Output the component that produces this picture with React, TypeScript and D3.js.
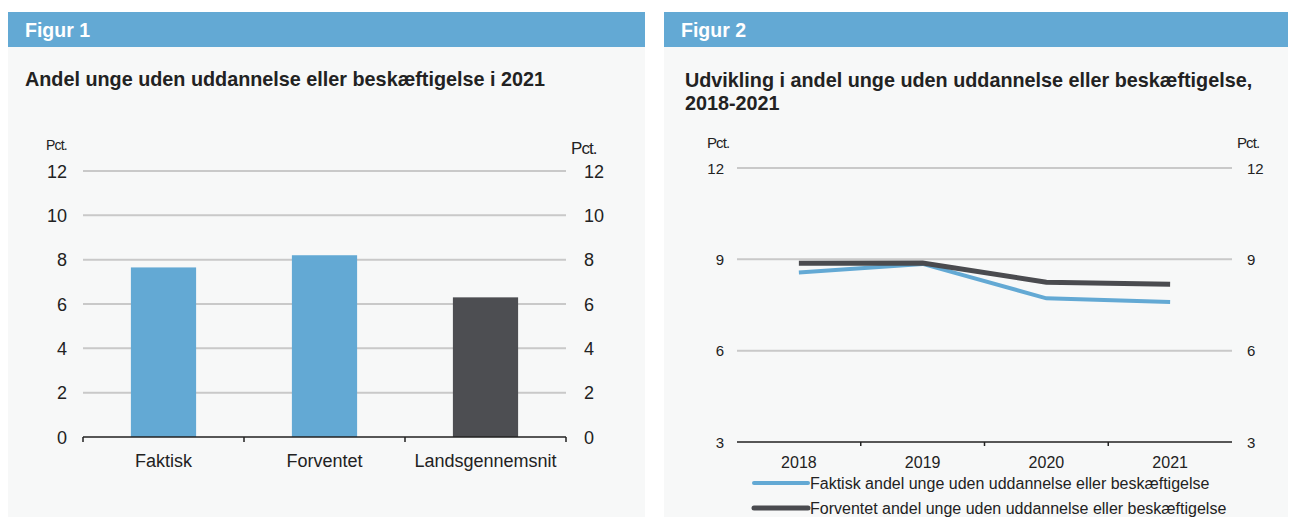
import React from 'react';
import * as d3 from 'd3';

// Figur 1 data
const categories = ['Faktisk', 'Forventet', 'Landsgennemsnit'];
const barValues = [7.65, 8.2, 6.3];
const barColors = ['#63a9d4', '#63a9d4', '#4d4e52'];
const barTicks = [0, 2, 4, 6, 8, 10, 12];

// Figur 2 data
const years = ['2018', '2019', '2020', '2021'];
const faktisk = [8.57, 8.85, 7.72, 7.6];
const forventet = [8.87, 8.88, 8.25, 8.18];
const lineTicks = [3, 6, 9, 12];
const legendLabels = [
  'Faktisk andel unge uden uddannelse eller beskæftigelse',
  'Forventet andel unge uden uddannelse eller beskæftigelse',
];

const FONT = '"Liberation Sans", Arial, sans-serif';
const BLUE = '#63a9d4';
const DARK = '#4a4b4f';
const GRID = '#c9c9c9';
const TEXT = '#222';

const Panel = ({ x, w, label }: { x: number; w: number; label: string }) => (
  <g>
    <rect x={x} y={47} width={w} height={470} fill="#f7f8f8" />
    <rect x={x} y={12} width={w} height={35} fill={BLUE} />
    <text x={x + 17} y={37} fill="#fff" fontSize={19.5} fontWeight="bold">{label}</text>
  </g>
);

const BarChart = () => {
  const x = d3.scaleBand().domain(categories).range([83, 566]);
  const y = d3.scaleLinear().domain([0, 12]).range([437, 171]);
  const barW = x.bandwidth() * 0.405;
  return (
    <g>
      <text x={25} y={86} fontSize={19.8} fontWeight="bold" fill={TEXT}>
        Andel unge uden uddannelse eller beskæftigelse i 2021
      </text>
      <text x={46} y={150} fontSize={14} fill={TEXT} letterSpacing={-0.8}>Pct.</text>
      <text x={571} y={154} fontSize={17} fill={TEXT} letterSpacing={-0.9}>Pct.</text>
      {barTicks.map(t => (
        <g key={t}>
          {t > 0 && <line x1={83} x2={566} y1={y(t)} y2={y(t)} stroke={GRID} strokeWidth={2} />}
          <text x={67} y={y(t) + 6.5} fontSize={18} textAnchor="end" fill={TEXT}>{t}</text>
          <text x={584} y={y(t) + 6.5} fontSize={18} fill={TEXT}>{t}</text>
        </g>
      ))}
      {categories.map((c, i) => (
        <rect key={c}
          x={(x(c) as number) + (x.bandwidth() - barW) / 2}
          y={y(barValues[i])}
          width={barW}
          height={y(0) - y(barValues[i])}
          fill={barColors[i]} />
      ))}
      <line x1={83} x2={566} y1={y(0)} y2={y(0)} stroke={TEXT} strokeWidth={1.5} />
      {[...categories.map(c => x(c) as number), 566].map((t, i) => (
        <line key={i} x1={t} x2={t} y1={y(0)} y2={y(0) + 5} stroke={TEXT} strokeWidth={1.5} />
      ))}
      {categories.map(c => (
        <text key={c} x={(x(c) as number) + x.bandwidth() / 2} y={467} fontSize={18}
          textAnchor="middle" fill={TEXT}>{c}</text>
      ))}
    </g>
  );
};

const LineChart = () => {
  const x = d3.scaleBand().domain(years).range([737, 1232]);
  const y = d3.scaleLinear().domain([3, 12]).range([442, 168]);
  const cx = (yr: string) => (x(yr) as number) + x.bandwidth() / 2;
  const line = d3.line<number>().x((_, i) => cx(years[i])).y(d => y(d));
  return (
    <g>
      <text x={685} y={87} fontSize={19.8} fontWeight="bold" fill={TEXT}>
        Udvikling i andel unge uden uddannelse eller beskæftigelse,
      </text>
      <text x={685} y={110} fontSize={19.8} fontWeight="bold" fill={TEXT}>2018-2021</text>
      <text x={707} y={148} fontSize={15} fill={TEXT} letterSpacing={-0.9}>Pct.</text>
      <text x={1237} y={148} fontSize={15} fill={TEXT} letterSpacing={-0.9}>Pct.</text>
      {lineTicks.map(t => (
        <g key={t}>
          {t > 3 && <line x1={737} x2={1232} y1={y(t)} y2={y(t)} stroke={GRID} strokeWidth={2} />}
          <text x={724} y={y(t) + 5.5} fontSize={15} textAnchor="end" fill={TEXT}>{t}</text>
          <text x={1247} y={y(t) + 5.5} fontSize={15} fill={TEXT}>{t}</text>
        </g>
      ))}
      <path d={line(faktisk) as string} fill="none" stroke={BLUE} strokeWidth={4} />
      <path d={line(forventet) as string} fill="none" stroke={DARK} strokeWidth={5} />
      <line x1={737} x2={1232} y1={y(3)} y2={y(3)} stroke={TEXT} strokeWidth={1.5} />
      {[...years.map(yr => x(yr) as number), 1232].map((t, i) => (
        <line key={i} x1={t} x2={t} y1={y(3) - (i === 0 || i === 4 ? -4 : 0)} y2={y(3) + 4}
          stroke={TEXT} strokeWidth={1.5} />
      ))}
      {years.map(yr => (
        <text key={yr} x={cx(yr)} y={468} fontSize={16} textAnchor="middle" fill={TEXT}>{yr}</text>
      ))}
      {legendLabels.map((l, i) => (
        <g key={l}>
          <line x1={754} x2={808} y1={483 + i * 25} y2={483 + i * 25}
            stroke={i === 0 ? BLUE : DARK} strokeWidth={i === 0 ? 4 : 5} strokeLinecap="round" />
          <text x={810} y={488.5 + i * 25} fontSize={16} fill={TEXT}>{l}</text>
        </g>
      ))}
    </g>
  );
};

export default function App() {
  return (
    <svg width={1291} height={517} style={{ position: 'absolute', left: 0, top: 0, fontFamily: FONT }}>
      <rect width={1291} height={517} fill="#fff" />
      <Panel x={8} w={637} label="Figur 1" />
      <Panel x={664} w={624} label="Figur 2" />
      <BarChart />
      <LineChart />
    </svg>
  );
}
